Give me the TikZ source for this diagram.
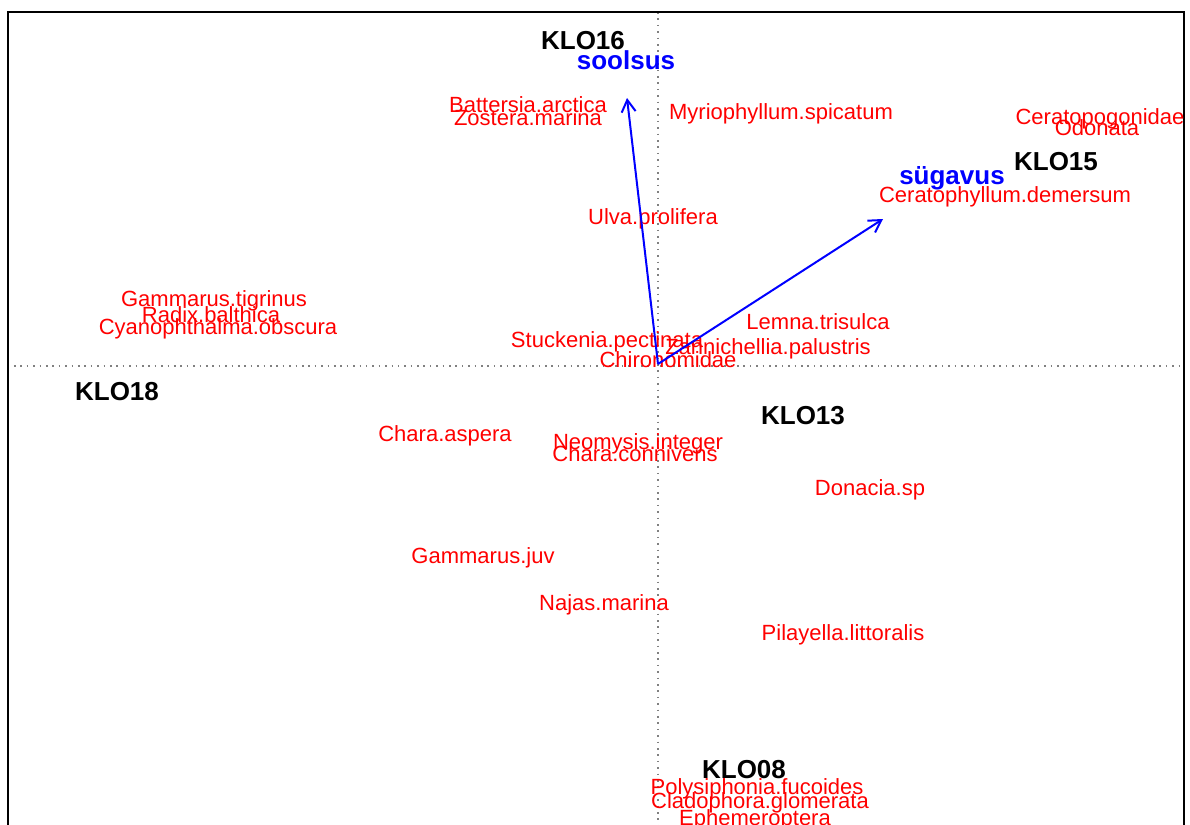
\documentclass[tikz,border=0pt]{standalone}
\usepackage{fontspec}
\setmainfont{Liberation Sans}
\usetikzlibrary{arrows.meta}
\tikzset{
    spec/.style={text=red, font=\fontsize{11}{11}\selectfont, inner sep=0pt, text height=.716em, text depth=0pt},
    site/.style={text=black, font=\bfseries\fontsize{13}{13}\selectfont, inner sep=0pt, text height=.716em, text depth=0pt},
    envlabel/.style={text=blue, font=\bfseries\fontsize{13}{13}\selectfont, inner sep=0pt, text height=.716em, text depth=0pt},
    envarrow/.style={blue, line width=1pt, -{Straight Barb[length=6pt,width=7pt]}},
    axisline/.style={gray, line width=0.8pt, dash pattern=on 0.8pt off 2.4pt}
}
\begin{document}
\begin{tikzpicture}[x=0.5pt,y=-0.5pt]
            \useasboundingbox (0,0) rectangle (1190,825);
            \clip (0,0) rectangle (1190,825);
            \fill[white] (0,0) rectangle (1190,825);
            % axes
            \draw[axisline] (7.5,366)--(1184,366);
            \draw[axisline] (658,12)--(658,825);
            \draw[line width=1pt] (7.5,12) rectangle (1184,845);
            % species scores
            \foreach \n/\x/\y/\t in {battersia/528/105/Battersia.arctica,
                zostera/528/118/Zostera.marina,
                myrio/781/112/Myriophyllum.spicatum,
                ceratopo/1100/117/Ceratopogonidae,
                odonata/1097/128/Odonata,
                ceratophyl/1005/195/Ceratophyllum.demersum,
                ulva/653/217/Ulva.prolifera,
                gamtig/214/299/Gammarus.tigrinus,
                radix/211/315/Radix.balthica,
                cyano/218/327/Cyanophthalma.obscura,
                lemna/818/322/Lemna.trisulca,
                stuck/607/340/Stuckenia.pectinata,
                zanni/768/347/Zannichellia.palustris,
                chiro/668/360/Chironomidae,
                charaasp/445/434/Chara.aspera,
                neomysis/638/442/Neomysis.integer,
                characon/635/454/Chara.connivens,
                donacia/870/488/Donacia.sp,
                gamjuv/483/556/Gammarus.juv,
                najas/604/603/Najas.marina,
                pilay/843/633/Pilayella.littoralis,
                polysi/757/787/Polysiphonia.fucoides,
                clado/760/801/Cladophora.glomerata,
                ephem/755/818/Ephemeroptera}
                {
                    \node[spec] (\n) at (\x,\y) {\t};
                }
            % site scores
            \foreach \n/\x/\y in {16/583/42,15/1056/163,18/117/393,13/803/417,08/744/771}
                {
                    \node[site] (klo\n) at (\x,\y) {KLO\n};
                }
            % environmental vectors
            \coordinate (o) at (658,364);
            \coordinate (soolsustip) at (627,98);
            \coordinate (sugavustip) at (883,219);
            \draw[envarrow] (o)--(soolsustip);
            \draw[envarrow] (o)--(sugavustip);
            \node[envlabel] (soolsus) at (626,62) {soolsus};
            \node[envlabel] (sugavus) at (952,177) {sügavus};
        \end{tikzpicture}
\end{document}
